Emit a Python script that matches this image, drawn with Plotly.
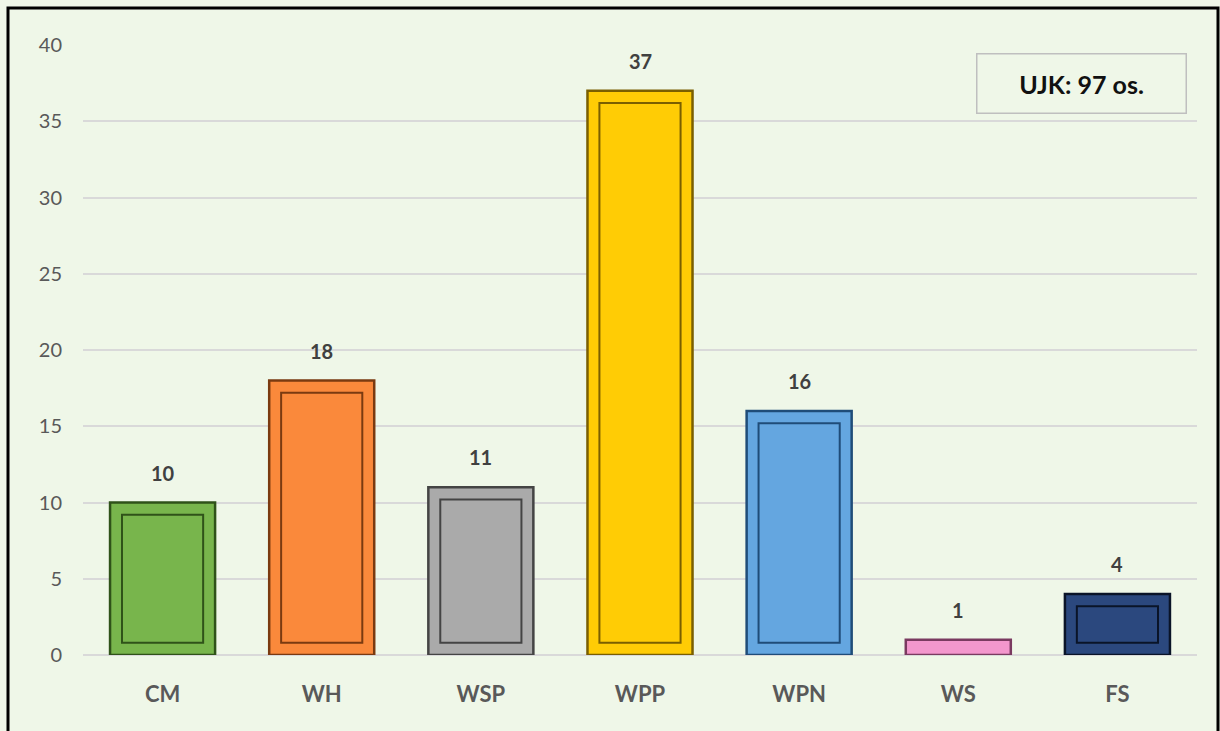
import plotly.graph_objects as go

categories = ["CM", "WH", "WSP", "WPP", "WPN", "WS", "FS"]
values = [10, 18, 11, 37, 16, 1, 4]
colors = ["#78B54C", "#FA893B", "#AAAAAA", "#FFCC05", "#64A6E0", "#F397CD", "#2B487E"]
edge_colors = ["#2F5219", "#7A3A10", "#444444", "#7A5F00", "#1F4C78", "#7A3A60", "#0A1428"]
tick_vals = [0, 5, 10, 15, 20, 25, 30, 35, 40]
total_label = "UJK: 97 os."

bg = "#EFF7E8"
W, H = 1220, 731
ml, mr, mt, mb = 83, 23, 45, 76

fig = go.Figure()
fig.add_trace(go.Bar(
    x=categories, y=values, width=0.66,
    marker=dict(color=colors, line=dict(color=edge_colors, width=2.5)),
    hoverinfo="x+y",
))
# inner bevel panel
inner_vals = [v - 1.6 if v > 2 else None for v in values]
fig.add_trace(go.Bar(
    x=categories, y=inner_vals, base=[0.8] * len(values), width=0.51,
    marker=dict(color=colors, line=dict(color=edge_colors, width=2)),
    hoverinfo="skip",
))

for c, v in zip(categories, values):
    fig.add_annotation(x=c, y=v, text=f"<b>{v}</b>", showarrow=False,
                       yshift=30, font=dict(size=20, color="#404040", family="Lato"))

pw, ph = W - ml - mr, H - mt - mb
fig.add_annotation(xref="paper", yref="paper", xanchor="center", yanchor="middle",
                   x=(1081 - ml) / pw, y=(H - mb - 83) / ph,
                   text=f"<b>{total_label}</b>", showarrow=False,
                   font=dict(size=25, color="#111111", family="Lato"),
                   bgcolor=bg, bordercolor="#BFBFBF", borderwidth=1.5,
                   width=206, height=56)

fig.add_shape(type="rect", xref="paper", yref="paper",
              x0=(8 - ml) / pw, x1=(1218 - ml) / pw,
              y0=(H - mb - 735) / ph, y1=(H - mb - 8) / ph,
              line=dict(color="black", width=3), layer="above")

fig.update_layout(
    width=W, height=H, barmode="overlay", showlegend=False,
    paper_bgcolor=bg, plot_bgcolor=bg,
    margin=dict(l=ml, r=mr, t=mt, b=mb),
    xaxis=dict(showgrid=False, showline=False, ticks="", ticklabelstandoff=24,
               tickfont=dict(size=22, color="#595959", family="Lato"),
               tickprefix="<b>", ticksuffix="</b>"),
    yaxis=dict(range=[0, 40], tickvals=tick_vals, showgrid=True,
               gridcolor="#D9D9D9", gridwidth=2, zeroline=True,
               zerolinecolor="#D9D9D9", zerolinewidth=2,
               ticklabelstandoff=20,
               tickfont=dict(size=20, color="#595959", family="Lato")),
)

fig.write_html("out.html", config={"displayModeBar": False},
               post_script="document.body.style.margin='0';")
